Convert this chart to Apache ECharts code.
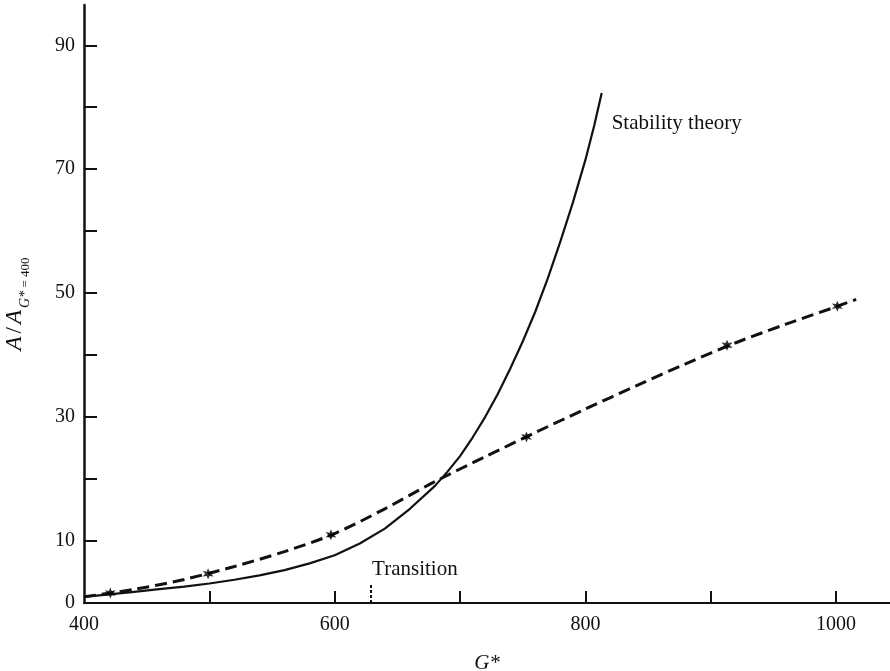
<!DOCTYPE html>
<html>
<head>
<meta charset="utf-8">
<script src="https://cdn.jsdelivr.net/npm/echarts@6/dist/echarts.min.js"></script>
<style>
  html, body { margin: 0; padding: 0; background: #fff; }
  #chart { width: 890px; height: 671px; }
</style>
</head>
<body>
<div id="chart"></div>
<script>
// Amplitude ratio A / A(G* = 400) against G*

// Stability theory curve
const theoryG = [400, 420, 440, 460, 480, 500, 520, 540, 560, 580, 600, 620, 640, 660, 680, 690, 700, 710, 720, 730, 740, 750, 760, 770, 780, 790, 800, 807, 813];
const theoryA = [1.0, 1.4, 1.8, 2.25, 2.65, 3.15, 3.75, 4.45, 5.3, 6.4, 7.7, 9.6, 12.0, 15.2, 18.9, 21.2, 23.7, 26.7, 30.0, 33.7, 37.8, 42.2, 47.0, 52.4, 58.3, 64.6, 71.5, 77.0, 82.3];

// Measured points (stars) and the dashed curve drawn through them
const measuredG = [421, 499, 597, 753, 913, 1001];
const measuredA = [1.6, 4.7, 11.0, 26.8, 41.6, 47.9];
const fitG = [400, 440, 480, 520, 560, 600, 640, 680, 720, 760, 800, 840, 880, 920, 960, 1000, 1016];
const fitA = [1.0, 2.2, 3.8, 5.9, 8.3, 11.2, 15.2, 19.6, 23.6, 27.5, 31.3, 35.0, 38.6, 42.0, 45.0, 47.8, 49.0];

// Transition marker
const transitionG = 629;
const transitionTop = 3.2;

// Axis ticks and labels
const xTicks = [500, 600, 700, 800, 900, 1000];
const xLabels = [400, 600, 800, 1000];
const yTicks = [10, 20, 30, 40, 50, 60, 70, 80, 90];
const yLabels = [0, 10, 30, 50, 70, 90];

const pair = (xs, ys) => xs.map((x, i) => [x, ys[i]]);

// small six-pointed star used as the point symbol
function starPath() {
  const pts = [];
  for (let k = 0; k < 12; k++) {
    const r = k % 2 === 0 ? 10 : 4.6;
    const a = -Math.PI / 2 + k * Math.PI / 6;
    pts.push((10 + r * Math.cos(a)).toFixed(2) + ' ' + (10 + r * Math.sin(a)).toFixed(2));
  }
  return 'path://M' + pts.join(' L') + ' Z';
}

const serif = '"Liberation Serif", "DejaVu Serif", serif';
const ink = '#111';

const chart = echarts.init(document.getElementById('chart'), null, { renderer: 'canvas' });
chart.setOption({
  backgroundColor: '#ffffff',
  animation: false,
  grid: { left: 84, right: 0, top: 5, bottom: 68, containLabel: false, outerBoundsMode: 'none' },
  xAxis: {
    type: 'value',
    min: 400,
    max: 1043,
    name: 'G*',
    nameLocation: 'middle',
    nameGap: 50,
    nameTextStyle: { fontFamily: serif, fontStyle: 'italic', fontSize: 21, color: ink },
    axisLine: { show: true, lineStyle: { color: ink, width: 2 } },
    axisTick: { show: true, inside: true, length: 12, customValues: xTicks, lineStyle: { color: ink, width: 2 } },
    axisLabel: {
      customValues: xLabels,
      margin: 12,
      formatter: (v) => String(v),
      fontFamily: serif, fontSize: 20, color: ink
    },
    splitLine: { show: false }
  },
  yAxis: {
    type: 'value',
    min: 0,
    max: 96.5,
    name: '{i|A}{n|/}{i|A}{sg|G*}{sn| = 400}',
    nameLocation: 'middle',
    nameGap: 58,
    nameRotate: 90,
    nameTextStyle: {
      color: ink,
      rich: {
        i: { fontFamily: serif, fontStyle: 'italic', fontSize: 23, color: ink },
        n: { fontFamily: serif, fontSize: 23, color: ink, padding: [0, 3, 0, 3] },
        sg: { fontFamily: serif, fontStyle: 'italic', fontSize: 14, color: ink, verticalAlign: 'bottom', padding: [0, 0, -6, 2] },
        sn: { fontFamily: serif, fontSize: 13, color: ink, verticalAlign: 'bottom', padding: [0, 0, -6, 0] }
      }
    },
    axisLine: { show: true, lineStyle: { color: ink, width: 2.5 } },
    axisTick: { show: true, inside: true, length: 13, customValues: yTicks, lineStyle: { color: ink, width: 2 } },
    axisLabel: { customValues: yLabels, margin: 9, fontFamily: serif, fontSize: 20, color: ink },
    splitLine: { show: false }
  },
  series: [
    {
      name: 'Stability theory',
      type: 'line',
      data: pair(theoryG, theoryA),
      smooth: false,
      showSymbol: false,
      lineStyle: { color: ink, width: 2.2, join: 'round' },
      endLabel: {
        show: true,
        formatter: 'Stability theory',
        offset: [2, 30],
        fontFamily: serif,
        fontSize: 21,
        color: ink
      },
      markLine: {
        silent: true,
        symbol: ['none', 'none'],
        label: { show: false },
        lineStyle: { color: ink, width: 2, type: [3, 2] },
        data: [[{ coord: [transitionG, 0] }, { coord: [transitionG, transitionTop] }]]
      },
      markPoint: {
        silent: true,
        symbol: 'circle',
        symbolSize: 0,
        label: {
          show: true,
          position: [1, -24],
          align: 'left',
          verticalAlign: 'top',
          formatter: 'Transition',
          fontFamily: serif,
          fontSize: 21,
          color: ink
        },
        data: [{ coord: [transitionG, transitionTop] }]
      },
      z: 3
    },
    {
      name: 'fit',
      type: 'line',
      data: pair(fitG, fitA),
      smooth: 0.3,
      showSymbol: false,
      lineStyle: { color: ink, width: 3, type: [12, 6] },
      z: 2
    },
    {
      name: 'measured',
      type: 'scatter',
      data: pair(measuredG, measuredA),
      symbol: starPath(),
      symbolSize: 11,
      itemStyle: { color: '#000' },
      z: 4
    }
  ]
});
</script>
</body>
</html>
